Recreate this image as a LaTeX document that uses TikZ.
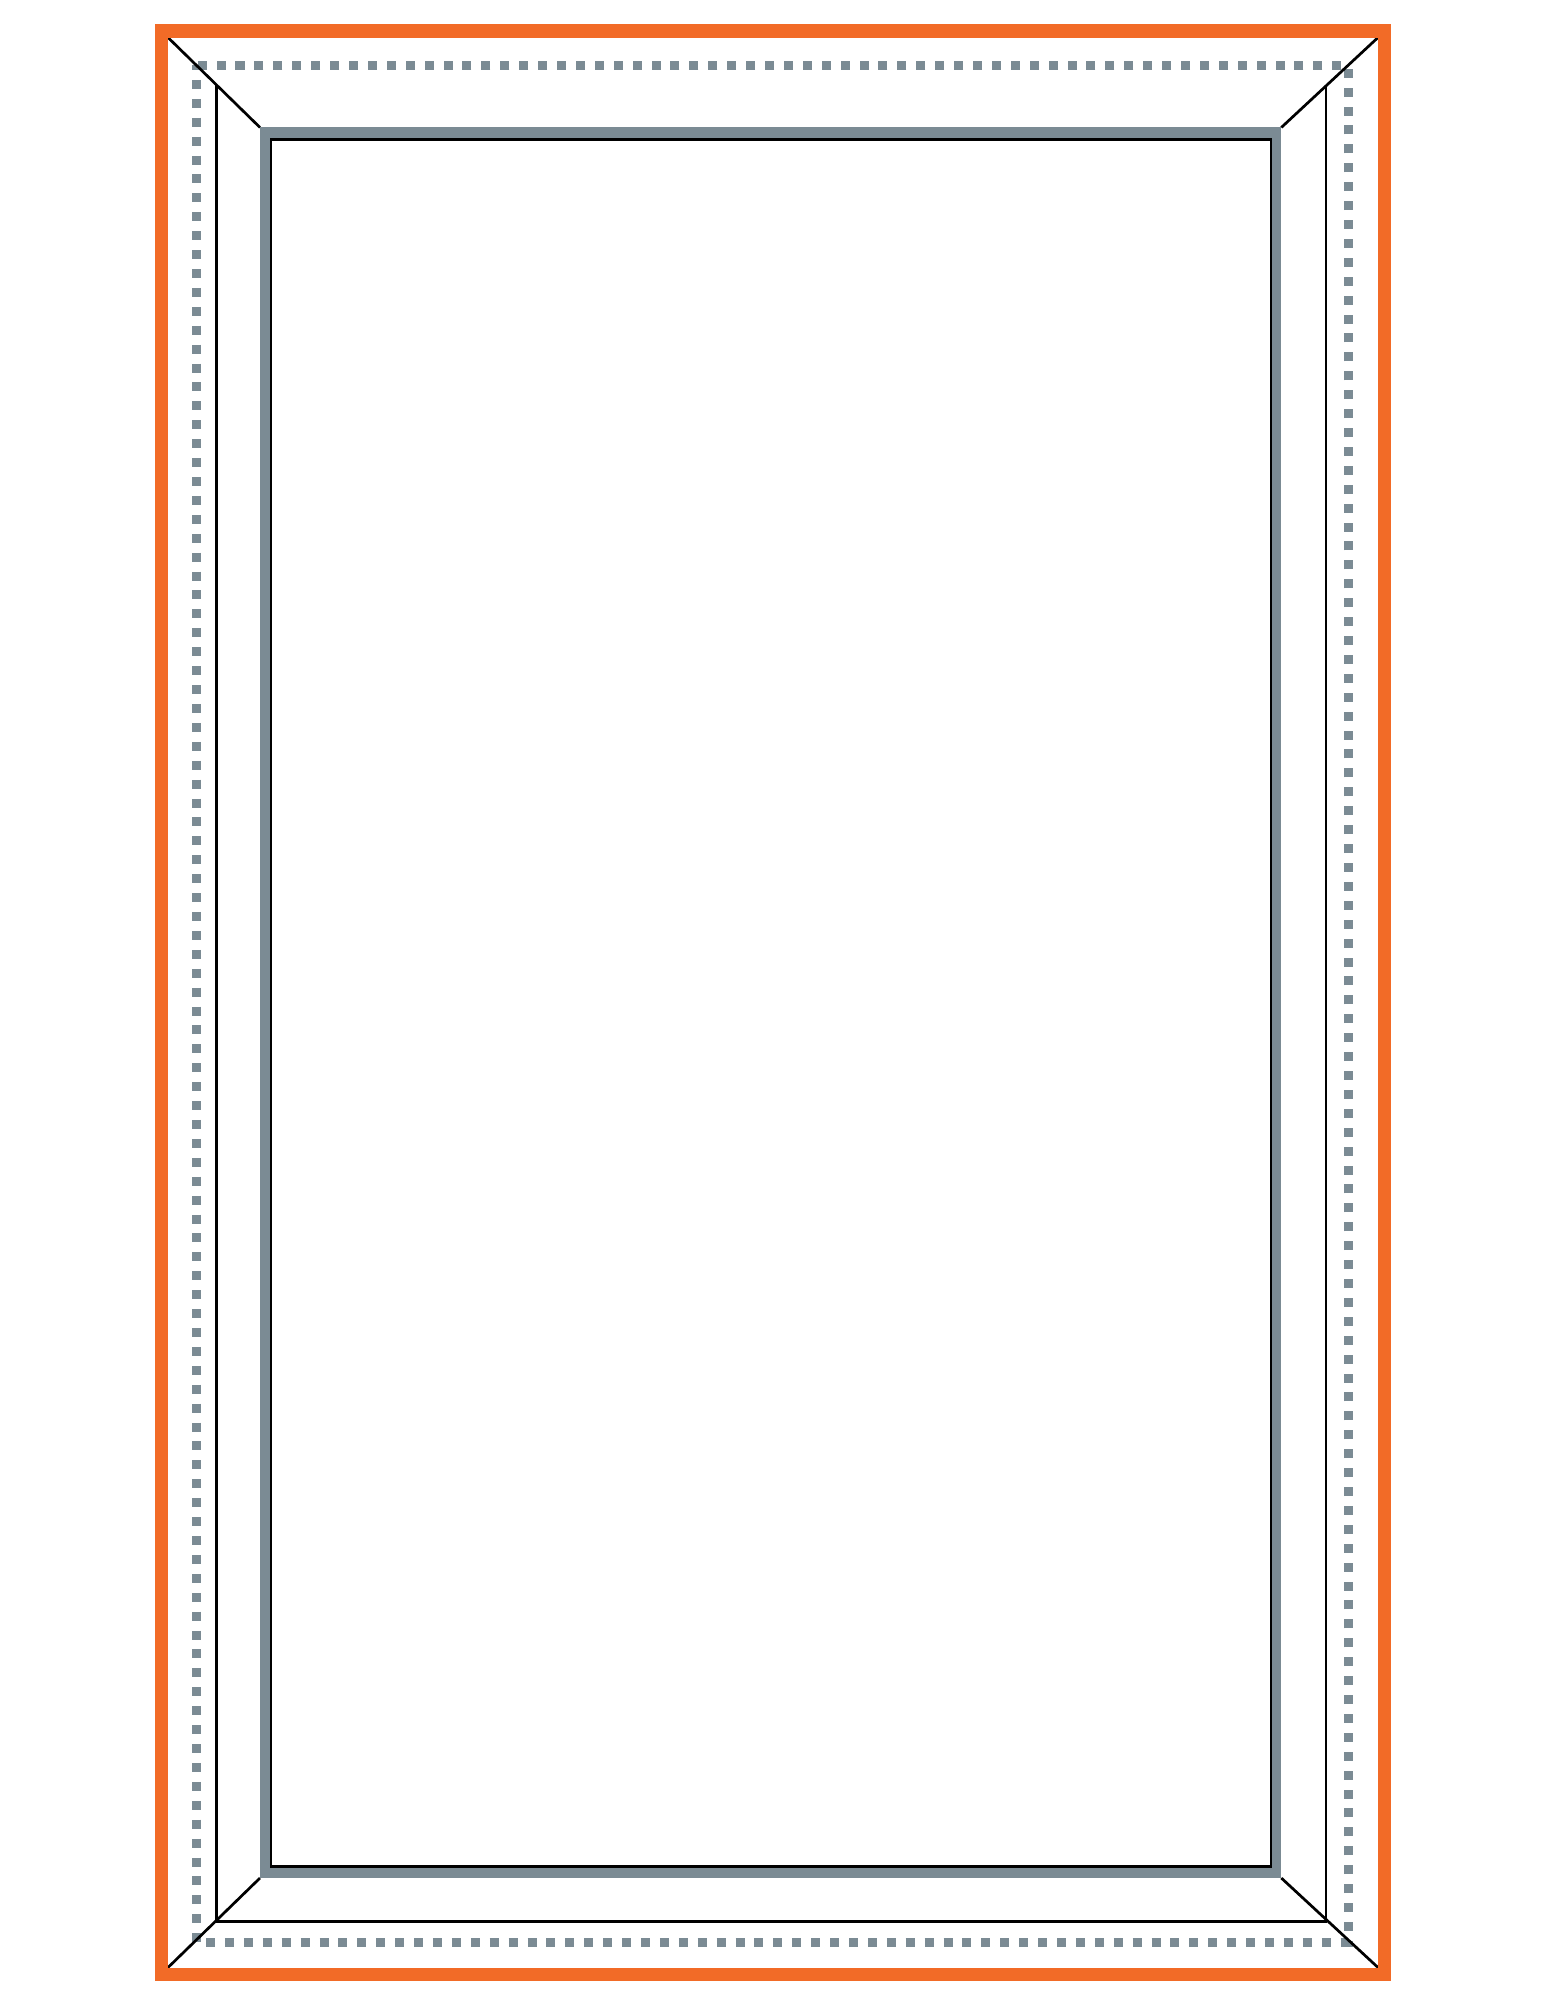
\documentclass[tikz,border=0pt]{standalone}
\definecolor{frameorange}{HTML}{F26B27}
\definecolor{framegrey}{HTML}{7B8B94}

\begin{document}
\begin{tikzpicture}
        [
            x = 0.01cm, y = -0.01cm,
            outer/.style = {draw = frameorange, line width = 0.13cm},
            sash/.style = {draw = framegrey, line width = 0.1cm},
            thin/.style = {draw = black, line width = 0.027cm},
            opening/.style = {draw = framegrey, line width = 0.09cm, dash pattern = on 0.09cm off 0.099cm, dash phase = 0.045cm}
        ]
        \useasboundingbox (0, 0) rectangle (1545, 2000);
        % corners of the frame (inner edge of the orange line)
        \coordinate (ftl) at (168, 37.5);
        \coordinate (ftr) at (1378, 37.5);
        \coordinate (fbl) at (168, 1967.5);
        \coordinate (fbr) at (1378, 1967.5);
        % corners of the sash (outer edge of the grey line)
        \coordinate (stl) at (260, 127.5);
        \coordinate (str) at (1281.3, 127.5);
        \coordinate (sbl) at (260, 1878);
        \coordinate (sbr) at (1281.3, 1878);
        % opening
        \draw[opening] (196.5, 65.5) rectangle (1348, 1942.5);
        % reveal
        \draw[thin] (216.7, 85.3) -- (216.7, 1921.7) -- (1326, 1921.7) -- (1326, 85.3);
        \draw[thin] (ftl) -- (stl);
        \draw[thin] (ftr) -- (str);
        \draw[thin] (fbl) -- (sbl);
        \draw[thin] (fbr) -- (sbr);
        % sash and glass
        \draw[sash] (265, 132.5) rectangle (1276.3, 1873);
        \draw[thin] (271, 139.3) rectangle (1271, 1866.7);
        % frame
        \draw[outer] (161.5, 31) rectangle (1384.5, 1974);
    \end{tikzpicture}
\end{document}
